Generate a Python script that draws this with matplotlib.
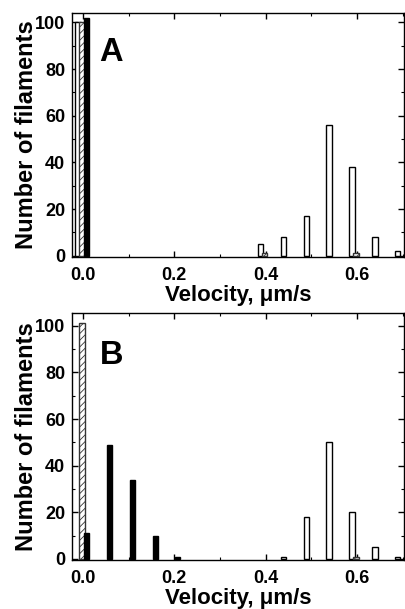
import matplotlib
matplotlib.use("Agg")
import matplotlib.pyplot as plt
import numpy as np
from matplotlib.ticker import MultipleLocator

plt.rcParams['font.family'] = ['Liberation Sans', 'DejaVu Sans']
plt.rcParams['hatch.linewidth'] = 0.6

# Bin centers (velocity, um/s)
bins = [0.0, 0.05, 0.10, 0.15, 0.20, 0.25, 0.30, 0.35, 0.40, 0.45, 0.50, 0.55, 0.60, 0.65, 0.70]

# Panel A
a_open    = [100, 0, 0, 0, 0, 0, 0, 0, 5, 8, 17, 56, 38, 8, 2]
a_hatched = [100, 0, 0, 0, 0, 0, 0, 0, 1, 0, 0, 0, 1, 0, 0]
a_black   = [102, 0, 0, 0, 0, 0, 0, 0, 0, 0, 0, 0, 0, 0, 0]

# Panel B
b_open    = [0, 0, 0, 0, 0, 0, 0, 0, 0, 1, 18, 50, 20, 5, 1]
b_hatched = [101, 0, 0, 0, 0, 0, 0, 0, 0, 0, 0, 0, 1, 0, 0]
b_black   = [11, 49, 34, 10, 1, 0, 0, 0, 0, 0, 0, 0, 0, 0, 0]

xticks = [0.0, 0.2, 0.4, 0.6]
xticklabels = ["0.0", "0.2", "0.4", "0.6"]
yticks = [0, 20, 40, 60, 80, 100]

W, H = 405, 609
fig = plt.figure(figsize=(W/100, H/100), dpi=100)

def nz(vals, offset):
    xs = [b + offset for b, v in zip(bins, vals) if v > 0]
    ys = [v for v in vals if v > 0]
    return xs, ys

def draw(ax, op, ha, bl, letter, ylim_top, ly):
    w = 0.012
    xs, ys = nz(op, -0.011)
    ax.bar(xs, ys, width=w, color='white', edgecolor='black', linewidth=1.0, zorder=2)
    xs, ys = nz(ha, -0.002)
    ax.bar(xs, ys, width=w, color='white', edgecolor='#333333', hatch='/////', linewidth=1.0, zorder=3)
    xs, ys = nz(bl, 0.008)
    ax.bar(xs, ys, width=0.011, color='black', edgecolor='black', linewidth=1.0, zorder=4)
    ax.set_xlim(-0.024, 0.703)
    ax.set_ylim(-0.5, ylim_top)
    ax.set_xticks(xticks)
    ax.set_xticklabels(xticklabels)
    ax.set_yticks(yticks)
    ax.xaxis.set_minor_locator(MultipleLocator(0.1))
    ax.yaxis.set_minor_locator(MultipleLocator(10))
    ax.tick_params(which='both', direction='in', top=True, right=True)
    ax.tick_params(which='major', length=4, width=1, labelsize=13)
    ax.tick_params(axis='x', which='major', pad=7)
    ax.tick_params(axis='y', which='major', pad=5)
    ax.tick_params(which='minor', length=2, width=0.8)
    for lab in ax.get_xticklabels() + ax.get_yticklabels():
        lab.set_fontweight('bold')
    for s in ax.spines.values():
        s.set_linewidth(1.0)
    ax.set_xlabel("Velocity, \u03bcm/s", fontsize=16, fontweight='bold', labelpad=1)
    ax.set_ylabel("Number of filaments", fontsize=17, fontweight='bold', labelpad=-2)
    ax.text(0.083, ly, letter, transform=ax.transAxes, fontsize=23.5,
            fontweight='bold', va='top', ha='left')

axA = fig.add_axes([72/W, 1 - 257/H, (404-72)/W, (257-13)/H])
draw(axA, a_open, a_hatched, a_black, "A", 104, 0.90)
axB = fig.add_axes([72/W, 1 - 560/H, (404-72)/W, (560-313)/H])
draw(axB, b_open, b_hatched, b_black, "B", 105.5, 0.889)

fig.savefig("out.png", dpi=100)
